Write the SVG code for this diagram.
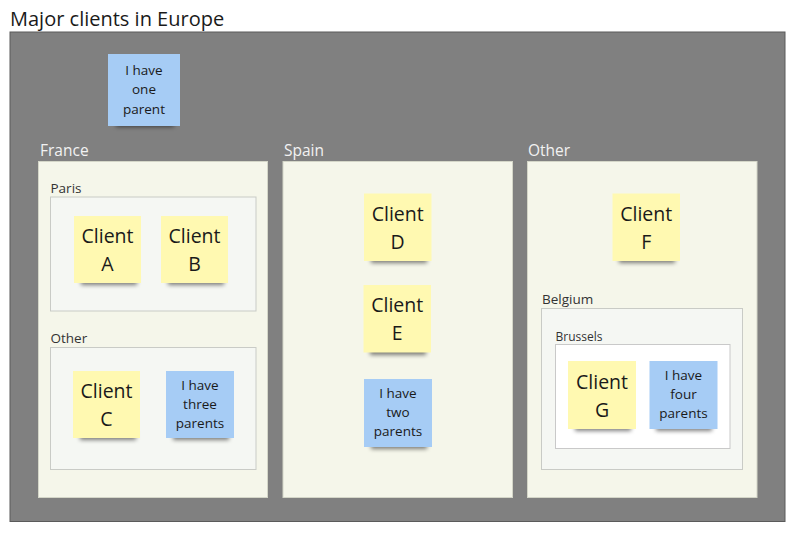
<svg xmlns="http://www.w3.org/2000/svg" width="800" height="534" viewBox="0 0 800 534">
<defs>
<filter id="blur" x="-30%" y="-100%" width="160%" height="300%"><feGaussianBlur stdDeviation="2.2"/></filter>
<style>
text{font-family:"Open Sans","Noto Sans","DejaVu Sans",sans-serif;}
.title{font-size:20px;fill:#1a1a1a;}
.grp{font-size:15.5px;fill:#f2f2f2;}
.sub{font-size:13.5px;fill:#333;}
.sub2{font-size:12px;fill:#333;}
.panel{fill:#f5f6ea;stroke:#d4d6c8;stroke-width:1;}
.inner{fill:#f5f7f3;stroke:#c9cbc6;stroke-width:1;}
.inner2{fill:#ffffff;stroke:#c9c9c9;stroke-width:1;}
.shadow{fill:#000;opacity:0.5;filter:url(#blur);}
.yel{fill:#fff9b1;}
.blu{fill:#a6ccf5;}
.big{font-size:19.5px;fill:#1a1a1a;text-anchor:middle;}
.sm{font-size:13.5px;fill:#1a1a1a;text-anchor:middle;}
</style>
</defs>
<rect width="800" height="534" fill="#ffffff"/>
<text class="title" x="10" y="25.5">Major clients in Europe</text>
<g id="europe">
<rect x="10" y="32" width="775" height="489.5" fill="#808080" stroke="#5a5a5a" stroke-width="1"/>
</g>

<g id="france">
<text class="grp" x="40" y="155.5">France</text>
<rect class="panel" x="38.5" y="161.5" width="229" height="336"/>
</g>
<g id="paris">
<text class="sub" x="50.5" y="192.5">Paris</text>
<rect class="inner" x="50.5" y="197" width="205.5" height="114"/>
</g>
<g id="france-other">
<text class="sub" x="50.5" y="343">Other</text>
<rect class="inner" x="50.5" y="347.5" width="205.5" height="122"/>
</g>
<g id="spain">
<text class="grp" x="284" y="155.5">Spain</text>
<rect class="panel" x="283" y="161.5" width="229.5" height="336"/>
</g>
<g id="other">
<text class="grp" x="528" y="155.5">Other</text>
<rect class="panel" x="527.5" y="161.5" width="229.5" height="336"/>
</g>
<g id="belgium">
<text class="sub" x="542" y="304">Belgium</text>
<rect class="inner" x="541.5" y="308.5" width="201" height="161"/>
</g>
<g id="brussels">
<text class="sub2" x="555.5" y="340.5">Brussels</text>
<rect class="inner2" x="555.5" y="344.5" width="174.5" height="104"/>
</g>

<g id="connectors"></g>

<g id="note-one-parent">
<rect class="shadow" x="116" y="118" width="58" height="9"/>
<rect class="blu" x="108" y="54" width="72" height="72"/>
<text class="sm" x="144" y="74.5">I have<tspan x="144" y="94">one</tspan><tspan x="144" y="113.5">parent</tspan></text>
</g>
<g id="client-a">
<rect class="shadow" x="81" y="276" width="56" height="9"/>
<rect class="yel" x="74" y="216" width="67" height="67"/>
<text class="big" x="107.5" y="243">Client<tspan x="107.5" y="271">A</tspan></text>
</g>
<g id="client-b">
<rect class="shadow" x="168" y="276" width="56" height="9"/>
<rect class="yel" x="161" y="216" width="67" height="67"/>
<text class="big" x="194.5" y="243">Client<tspan x="194.5" y="271">B</tspan></text>
</g>
<g id="client-c">
<rect class="shadow" x="80" y="431" width="56" height="9"/>
<rect class="yel" x="73" y="371" width="67" height="67"/>
<text class="big" x="106.5" y="398">Client<tspan x="106.5" y="426">C</tspan></text>
</g>
<g id="note-three-parents">
<rect class="shadow" x="173" y="431" width="56" height="9"/>
<rect class="blu" x="166" y="371" width="68" height="67"/>
<text class="sm" x="200" y="389.5">I have<tspan x="200" y="408.5">three</tspan><tspan x="200" y="427.5">parents</tspan></text>
</g>
<g id="client-d">
<rect class="shadow" x="371" y="254" width="56" height="9"/>
<rect class="yel" x="364" y="193.5" width="67.5" height="67.5"/>
<text class="big" x="397.7" y="220.5">Client<tspan x="397.7" y="248.5">D</tspan></text>
</g>
<g id="client-e">
<rect class="shadow" x="370" y="346" width="56" height="9"/>
<rect class="yel" x="363.5" y="285" width="67.5" height="67.5"/>
<text class="big" x="397.2" y="312.3">Client<tspan x="397.2" y="340.3">E</tspan></text>
</g>
<g id="note-two-parents">
<rect class="shadow" x="371" y="440" width="56" height="9"/>
<rect class="blu" x="364" y="379" width="68" height="68"/>
<text class="sm" x="398" y="397.7">I have<tspan x="398" y="416.7">two</tspan><tspan x="398" y="435.7">parents</tspan></text>
</g>
<g id="client-f">
<rect class="shadow" x="619" y="254" width="56" height="9"/>
<rect class="yel" x="612.5" y="193.5" width="67.5" height="67.5"/>
<text class="big" x="646.2" y="220.5">Client<tspan x="646.2" y="248.5">F</tspan></text>
</g>
<g id="client-g">
<rect class="shadow" x="575" y="422" width="56" height="9"/>
<rect class="yel" x="568" y="361" width="68" height="68"/>
<text class="big" x="602" y="388.5">Client<tspan x="602" y="416.5">G</tspan></text>
</g>
<g id="note-four-parents">
<rect class="shadow" x="656" y="422" width="56" height="9"/>
<rect class="blu" x="649.5" y="361" width="68" height="68"/>
<text class="sm" x="683.5" y="380">I have<tspan x="683.5" y="399">four</tspan><tspan x="683.5" y="418">parents</tspan></text>
</g>
</svg>
